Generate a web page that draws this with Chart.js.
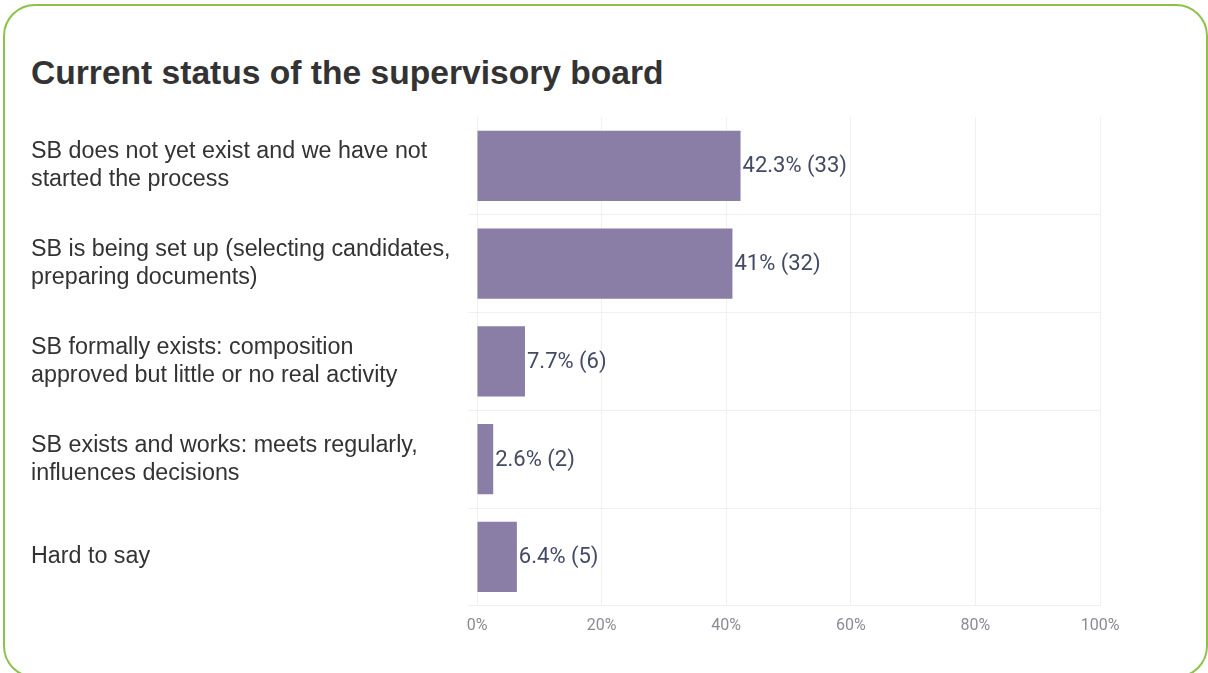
<!DOCTYPE html>
<html>
<head>
<meta charset="utf-8">
<script src="https://cdn.jsdelivr.net/npm/chart.js@4"></script>
<style>
    html, body { margin: 0; padding: 0; background: #fff; }
    #frame {
        position: absolute; left: 3px; top: 4px;
        width: 1201px; height: 670px;
        border: 2px solid #8bc34a; border-radius: 32px;
    }
    #title {
        position: absolute; left: 31px; top: 53px;
        font: bold 33.6px "Liberation Sans", Arial, sans-serif;
        line-height: 40px; color: #333;
    }
    #chart { position: absolute; left: 0; top: 0; }
</style>
</head>
<body>
<div id="frame"></div>
<div id="title">Current status of the supervisory board</div>
<canvas id="chart" width="1208" height="673"></canvas>
<script>
var categories = [
    ["SB does not yet exist and we have not", "started the process"],
    ["SB is being set up (selecting candidates,", "preparing documents)"],
    ["SB formally exists: composition", "approved but little or no real activity"],
    ["SB exists and works: meets regularly,", "influences decisions"],
    ["Hard to say"]
];
var percents = [42.3, 41, 7.7, 2.6, 6.4];
var counts = [33, 32, 6, 2, 5];
var xTicks = [0, 20, 40, 60, 80, 100];

var gridColor = '#f0f0f3';

// writes "pct% (count)" just past the end of each bar
var valueLabels = {
    id: 'valueLabels',
    afterDatasetsDraw: function (chart) {
        var ctx = chart.ctx;
        var meta = chart.getDatasetMeta(0);
        ctx.save();
        ctx.font = '22px Roboto';
        ctx.fillStyle = '#434a63';
        ctx.textAlign = 'left';
        ctx.textBaseline = 'middle';
        meta.data.forEach(function (bar, i) {
            ctx.fillText(percents[i] + '% (' + counts[i] + ')', bar.x + 2, bar.y + 1);
        });
        ctx.restore();
    }
};

var chart = new Chart(document.getElementById('chart'), {
    type: 'bar',
    data: {
        labels: categories,
        datasets: [{
            data: percents,
            backgroundColor: '#8a7da6',
            borderWidth: 0
        }]
    },
    options: {
        indexAxis: 'y',
        responsive: false,
        animation: false,
        layout: {
            padding: { left: 31, top: 117, right: 108, bottom: 26 }
        },
        plugins: {
            legend: { display: false },
            tooltip: { enabled: false }
        },
        scales: {
            x: {
                min: 0,
                max: 100,
                afterBuildTicks: function (scale) {
                    scale.ticks = xTicks.map(function (v) { return { value: v }; });
                },
                grid: { color: gridColor, drawTicks: false },
                border: { color: gridColor },
                ticks: {
                    padding: 11,
                    color: '#8b8b95',
                    font: { family: 'Roboto', size: 16 },
                    callback: function (v) { return v + '%'; }
                }
            },
            y: {
                afterFit: function (scale) { scale.width = 446; },
                grid: {
                    color: function (c) { return c.index === 0 ? 'rgba(0,0,0,0)' : gridColor; },
                    tickLength: 9
                },
                border: { color: gridColor },
                ticks: {
                    crossAlign: 'far',
                    color: '#333',
                    font: { family: '"Liberation Sans", Arial, sans-serif', size: 23.3, lineHeight: 1.2 }
                }
            }
        }
    },
    plugins: [valueLabels]
});
</script>
</body>
</html>
